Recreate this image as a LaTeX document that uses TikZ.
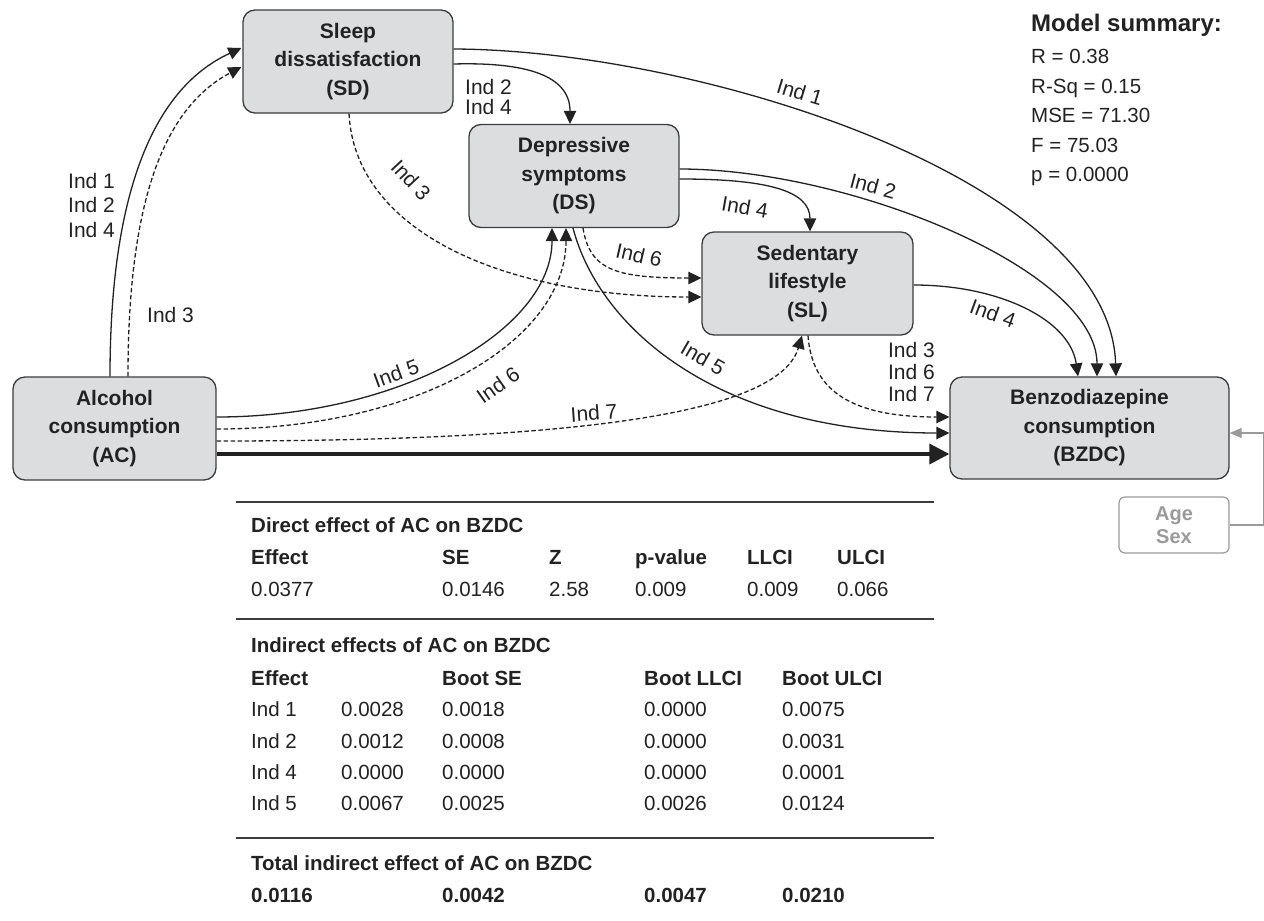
\documentclass[tikz,border=0pt]{standalone}
\usepackage{fontspec}
\setmainfont{Liberation Sans}
\usetikzlibrary{arrows.meta,calc}
\definecolor{ink}{HTML}{222222}
\definecolor{boxfill}{HTML}{DCDDDF}
\definecolor{boxline}{HTML}{3C3C3C}
\definecolor{soft}{HTML}{9A9A9A}
\begin{document}
\begin{tikzpicture}[x=1pt,y=-1pt,
  var/.style={draw=boxline, fill=boxfill, line width=1.3pt, rounded corners=12pt, align=center,
    font=\fontsize{21}{28.5}\selectfont\bfseries, text=ink, inner sep=0pt},
  conn/.style={draw=ink, line width=1.3pt, -{Triangle[length=13pt,width=12.5pt]}},
  dconn/.style={conn, dash pattern=on 4.5pt off 2.5pt},
  lab/.style={font=\fontsize{21}{24}\selectfont, text=ink, inner sep=0pt},
  tcell/.style={font=\fontsize{20.5}{24}\selectfont, text=ink, inner sep=0pt, anchor=base west},
  thd/.style={tcell, font=\fontsize{20.5}{24}\selectfont\bfseries},
  rule/.style={draw=boxline, line width=1.3pt}
]
\useasboundingbox (0,0) rectangle (1264,921);

% variables
\node[var, minimum width=210pt, minimum height=103pt] (SD) at (348,61.5) {Sleep\\dissatisfaction\\(SD)};
\node[var, minimum width=210pt, minimum height=103pt] (DS) at (574,176) {Depressive\\symptoms\\(DS)};
\node[var, minimum width=211pt, minimum height=103pt] (SL) at (807.5,283.5) {Sedentary\\lifestyle\\(SL)};
\node[var, minimum width=203pt, minimum height=103pt] (AC) at (114.5,428.5) {Alcohol\\consumption\\(AC)};
\node[var, minimum width=279pt, minimum height=102pt] (BZ) at (1089.5,428) {Benzodiazepine\\consumption\\(BZDC)};
\node[draw=soft, line width=1.2pt, rounded corners=6pt, minimum width=110pt, minimum height=56pt,
  align=center, font=\fontsize{20}{23}\selectfont\bfseries, text=soft, inner sep=0pt] (AS) at (1174,525) {Age\\Sex};

% connectors
\draw[conn] ($(AC.north)+(-4.5,0)$) .. controls (110,200) and (150,90) .. ($(SD.west)+(-1,-13.5)$);
\draw[dconn] ($(AC.north)+(13.5,0)$) .. controls (128,210) and (160,110) .. ($(SD.west)+(-1,5.5)$);
\draw[conn] ($(SD.east)+(0,-12.5)$) .. controls (700,50) and (1110,180) .. ($(BZ.north)+(26.5,0)$);
\draw[conn] ($(SD.east)+(0,2.5)$) .. controls (525,62) and (570,75) .. ($(DS.north)+(-4,0)$);
\draw[dconn] ($(SD.south)+(1,0)$) .. controls (355,230) and (500,297) .. ($(SL.west)+(0,13.5)$);
\draw[conn] ($(DS.east)+(0,-7)$) .. controls (850,169) and (1097,270) .. ($(BZ.north)+(7.5,0)$);
\draw[conn] ($(DS.east)+(0,3)$) .. controls (765,179) and (810,190) .. ($(SL.north)+(2.5,0)$);
\draw[dconn] ($(DS.south)+(9,0)$) .. controls (590,270) and (615,278) .. ($(SL.west)+(0,-5.5)$);
\draw[conn] ($(DS.south)+(-1,0)$) .. controls (600,330) and (720,433) .. ($(BZ.west)+(0,5)$);
\draw[conn] ($(SL.east)+(0,1.5)$) .. controls (1000,285) and (1070,320) .. ($(BZ.north)+(-11.5,0)$);
\draw[dconn] ($(SL.south)+(0.5,0)$) .. controls (812,390) and (850,417) .. ($(BZ.west)+(0,-11)$);
\draw[conn] ($(AC.east)+(0,-11.5)$) .. controls (400,417) and (552,330) .. ($(DS.south)+(-22,0)$);
\draw[dconn] ($(AC.east)+(0,0.5)$) .. controls (420,429) and (566,340) .. ($(DS.south)+(-8,0)$);
\draw[dconn] ($(AC.east)+(0,12.5)$) .. controls (600,441) and (780,410) .. ($(SL.south)+(-5.5,0)$);
\draw[draw=ink, line width=3.6pt, -{Triangle[length=20pt,width=20pt]}] ($(AC.east)+(0,25.5)$) -- ($(BZ.west)+(0,26)$);
\draw[draw=soft, line width=1.2pt, -{Triangle[length=12pt,width=10pt]}] (AS.east) -- ++(34,0) |- ($(BZ.east)+(0,5)$);

% path labels
\node[lab, anchor=west, align=left, font=\fontsize{21}{24.5}\selectfont] (l1) at (68,205) {Ind 1\\Ind 2\\Ind 4};
\node[lab, anchor=west] (l2) at (147,315) {Ind 3};
\node[lab, rotate=-17] (l3) at (800,92) {Ind 1};
\node[lab, anchor=west, align=left, font=\fontsize{21}{20}\selectfont] (l4) at (465,97) {Ind 2\\Ind 4};
\node[lab, rotate=-47] (l5) at (411,180) {Ind 3};
\node[lab, rotate=-15] (l6) at (873,186) {Ind 2};
\node[lab, rotate=-10] (l7) at (745,207) {Ind 4};
\node[lab, rotate=-13] (l8) at (639,255) {Ind 6};
\node[lab, rotate=-30] (l9) at (703,358) {Ind 5};
\node[lab, rotate=-20] (l10) at (993,313) {Ind 4};
\node[lab, anchor=east, align=right, font=\fontsize{21}{22}\selectfont] (l11) at (935,372) {Ind 3\\Ind 6\\Ind 7};
\node[lab, rotate=20] (l12) at (396,373) {Ind 5};
\node[lab, rotate=35] (l13) at (498,385) {Ind 6};
\node[lab, rotate=4] (l14) at (594,413) {Ind 7};

% model summary
\node[anchor=base west, inner sep=0pt, font=\fontsize{24}{28}\selectfont\bfseries, text=ink] (ms) at (1031,31.5) {Model summary:};
\node[anchor=north west, inner sep=0pt, align=left, font=\fontsize{20.5}{29.5}\selectfont, text=ink] (msv) at (1031,49) {R = 0.38\\R-Sq = 0.15\\MSE = 71.30\\F = 75.03\\p = 0.0000};

% table
\draw[rule] (236,502) -- (934,502);
\draw[rule] (236,619) -- (934,619);
\draw[rule] (236,838) -- (934,838);

\node[thd] (dtitle) at (251,532.5) {Direct effect of AC on BZDC};
\foreach \t/\xx [count=\i] in {Effect/251,SE/442,Z/549,p-value/635,LLCI/747,ULCI/837}
  \node[thd] (dh\i) at (\xx,564.5) {\t};
\foreach \t/\xx [count=\i] in {0.0377/251,0.0146/442,2.58/549,0.009/635,0.009/747,0.066/837}
  \node[tcell] (dv\i) at (\xx,596.5) {\t};

\node[thd] (ititle) at (251,652.5) {Indirect effects of AC on BZDC};
\foreach \t/\xx [count=\i] in {Effect/251,Boot SE/442,Boot LLCI/644,Boot ULCI/782}
  \node[thd] (ih\i) at (\xx,685.5) {\t};
\foreach \r/\yy/\va/\vb/\vc/\vd in {1/716.5/0.0028/0.0018/0.0000/0.0075,2/748.5/0.0012/0.0008/0.0000/0.0031,4/779.5/0.0000/0.0000/0.0000/0.0001,5/810.5/0.0067/0.0025/0.0026/0.0124}{
  \node[tcell] (r\r-n) at (251,\yy) {Ind \r};
  \node[tcell] (r\r-a) at (341,\yy) {\va};
  \node[tcell] (r\r-b) at (442,\yy) {\vb};
  \node[tcell] (r\r-c) at (644,\yy) {\vc};
  \node[tcell] (r\r-d) at (782,\yy) {\vd};
}

\node[thd] (ttitle) at (251,870.5) {Total indirect effect of AC on BZDC};
\foreach \t/\xx [count=\i] in {0.0116/251,0.0042/442,0.0047/644,0.0210/782}
  \node[thd] (tv\i) at (\xx,902.5) {\t};
\end{tikzpicture}
\end{document}
